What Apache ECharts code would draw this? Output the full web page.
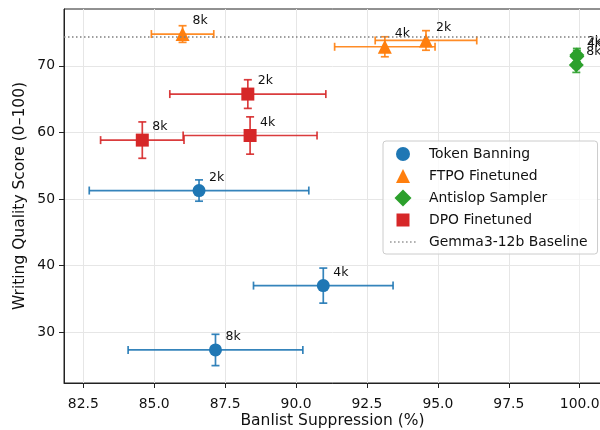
<!DOCTYPE html>
<html>
<head>
<meta charset="utf-8">
<script src="https://cdn.jsdelivr.net/npm/echarts@6/dist/echarts.min.js"></script>
<style>
html,body{margin:0;padding:0;background:#fff;}
#chart{width:600px;height:430px;}
</style>
</head>
<body>
<div id="chart"></div>
<script>
// ---- data ----
const pointLabels = ['2k', '4k', '8k'];

const tokenX    = [86.58, 90.96, 87.16];
const tokenXErr = [3.87, 2.46, 3.08];
const tokenY    = [51.27, 37.0, 27.34];
const tokenYErr = [1.6, 2.63, 2.35];

const ftpoX    = [94.58, 93.13, 86.0];
const ftpoXErr = [1.79, 1.77, 1.1];
const ftpoY    = [73.8, 72.85, 74.76];
const ftpoYErr = [1.47, 1.5, 1.25];

const antiX    = [99.9, 99.9, 99.88];
const antiXErr = [0.08, 0.08, 0.1];
const antiY    = [71.6, 71.4, 70.1];
const antiYErr = [1.0, 0.9, 1.1];

const dpoX    = [88.30, 88.38, 84.58];
const dpoXErr = [2.75, 2.36, 1.47];
const dpoY    = [65.75, 59.53, 58.84];
const dpoYErr = [2.15, 2.8, 2.73];

const baselineScore = 74.35;

const xTicks = [82.5, 85, 87.5, 90, 92.5, 95, 97.5, 100];
const yTicks = [30, 40, 50, 60, 70];

const xLabel = 'Banlist Suppression (%)';
const yLabel = 'Writing Quality Score (0–100)';

// ---- styling ----
const FONT = 'DejaVu Sans';
const BOX = 'M0,0L0,0M26,18L26,18';
const groups = [
  {name: 'Token Banning',    color: '#1f77b4', symbol: 'circle',   size: 13,       x: tokenX, xe: tokenXErr, y: tokenY, ye: tokenYErr,
   icon: 'path://' + BOX + 'M20,9A7,7,0,1,1,6,9A7,7,0,1,1,20,9Z'},
  {name: 'FTPO Finetuned',   color: '#ff7f0e', symbol: 'triangle', size: [14, 14], x: ftpoX,  xe: ftpoXErr,  y: ftpoY,  ye: ftpoYErr,
   icon: 'path://' + BOX + 'M13,2L20,16L6,16Z'},
  {name: 'Antislop Sampler', color: '#2ca02c', symbol: 'diamond',  size: [15, 15], x: antiX,  xe: antiXErr,  y: antiY,  ye: antiYErr,
   icon: 'path://' + BOX + 'M13,0.5L21.5,9L13,17.5L4.5,9Z'},
  {name: 'DPO Finetuned',    color: '#d62728', symbol: 'rect',     size: 13,       x: dpoX,   xe: dpoXErr,   y: dpoY,   ye: dpoYErr,
   icon: 'path://' + BOX + 'M6.5,2.5H19.5V15.5H6.5Z'}
];
let dots = '';
for (let k = 0; k < 7; k++) { dots += 'M' + (k * 4) + ',8.2h1.6v1.6h-1.6z'; }
const baselineIcon = 'path://' + BOX + dots;

function errRender(color) {
  return function (params, api) {
    const x = api.value(0), y = api.value(1), xe = api.value(2), ye = api.value(3);
    const c = api.coord([x, y]);
    const l = api.coord([x - xe, y]);
    const r = api.coord([x + xe, y]);
    const t = api.coord([x, y + ye]);
    const b = api.coord([x, y - ye]);
    const cap = 4;
    const st = {stroke: color, lineWidth: 1.7, opacity: 0.9};
    const line = (x1, y1, x2, y2) => ({type: 'line', shape: {x1, y1, x2, y2}, style: st});
    return {
      type: 'group',
      children: [
        line(l[0], c[1], r[0], c[1]),
        line(l[0], c[1] - cap, l[0], c[1] + cap),
        line(r[0], c[1] - cap, r[0], c[1] + cap),
        line(c[0], t[1], c[0], b[1]),
        line(c[0] - cap, t[1], c[0] + cap, t[1]),
        line(c[0] - cap, b[1], c[0] + cap, b[1])
      ]
    };
  };
}

const series = [];
// baseline
series.push({
  name: 'Gemma3-12b Baseline',
  type: 'scatter',
  data: [],
  z: 1,
  itemStyle: {color: '#7f7f7f'},
  markLine: {
    silent: true,
    symbol: ['none', 'none'],
    label: {show: false},
    lineStyle: {color: '#7f7f7f', width: 1.5, type: [1.5, 2.5]},
    data: [{yAxis: baselineScore}]
  }
});
groups.forEach(g => {
  series.push({
    name: g.name + ' err',
    type: 'custom',
    z: 2,
    silent: true,
    renderItem: errRender(g.color),
    encode: {x: 0, y: 1},
    data: g.x.map((v, i) => [v, g.y[i], g.xe[i], g.ye[i]])
  });
});
groups.forEach(g => {
  series.push({
    name: g.name,
    type: 'scatter',
    z: 3,
    symbol: g.symbol,
    symbolSize: g.size,
    itemStyle: {color: g.color, opacity: 1},
    label: {
      show: true,
      position: 'inside',
      align: 'left',
      verticalAlign: 'middle',
      offset: [10, -13],
      fontFamily: FONT,
      fontSize: 12.5,
      color: '#111',
      formatter: p => pointLabels[p.dataIndex]
    },
    data: g.x.map((v, i) => [v, g.y[i]])
  });
});

const option = {
  animation: false,
  backgroundColor: '#fff',
  grid: {
    left: 64, right: -1, top: 9, bottom: 47,
    outerBoundsMode: 'none',
    containLabel: false,
    show: true, borderColor: '#222', borderWidth: 1, backgroundColor: 'transparent'
  },
  xAxis: {
    type: 'value',
    min: 81.82, max: 100.75,
    name: xLabel,
    nameLocation: 'middle',
    nameGap: 30,
    nameMoveOverlap: false,
    nameTextStyle: {fontFamily: FONT, fontSize: 15.5, color: '#111'},
    axisLine: {show: true, onZero: false, lineStyle: {color: '#222', width: 1}},
    axisTick: {show: true, length: 5, lineStyle: {color: '#222'}, customValues: xTicks},
    axisLabel: {
      fontFamily: FONT, fontSize: 13.9, color: '#111', margin: 14,
      customValues: xTicks,
      formatter: v => Number(v).toFixed(1)
    },
    splitLine: {show: true, lineStyle: {color: '#e6e6e6', width: 1}}
  },
  yAxis: {
    type: 'value',
    min: 22.38, max: 78.52,
    name: yLabel,
    nameLocation: 'middle',
    nameGap: 36,
    nameMoveOverlap: false,
    nameRotate: 90,
    nameTextStyle: {fontFamily: FONT, fontSize: 15.5, color: '#111'},
    axisLine: {show: true, onZero: false, lineStyle: {color: '#222', width: 1}},
    axisTick: {show: true, length: 5, lineStyle: {color: '#222'}, customValues: yTicks},
    axisLabel: {
      fontFamily: FONT, fontSize: 13.9, color: '#111', margin: 9,
      customValues: yTicks
    },
    splitLine: {show: true, lineStyle: {color: '#e6e6e6', width: 1}}
  },
  legend: {
    orient: 'vertical',
    left: 383, top: 141,
    padding: [4, 10, 3, 7],
    itemWidth: 26, itemHeight: 18, itemGap: 4,
    backgroundColor: 'rgba(255,255,255,0.8)',
    borderColor: '#cccccc', borderWidth: 1, borderRadius: 3,
    selectedMode: false,
    textStyle: {fontFamily: FONT, fontSize: 13.9, color: '#111', padding: [0, 0, 0, 8], lineHeight: 14},
    data: groups.map(g => ({name: g.name, icon: g.icon})).concat([{name: 'Gemma3-12b Baseline', icon: baselineIcon}])
  },
  series: series
};

const chart = echarts.init(document.getElementById('chart'), null, {renderer: 'canvas'});
chart.setOption(option);
</script>
</body>
</html>
